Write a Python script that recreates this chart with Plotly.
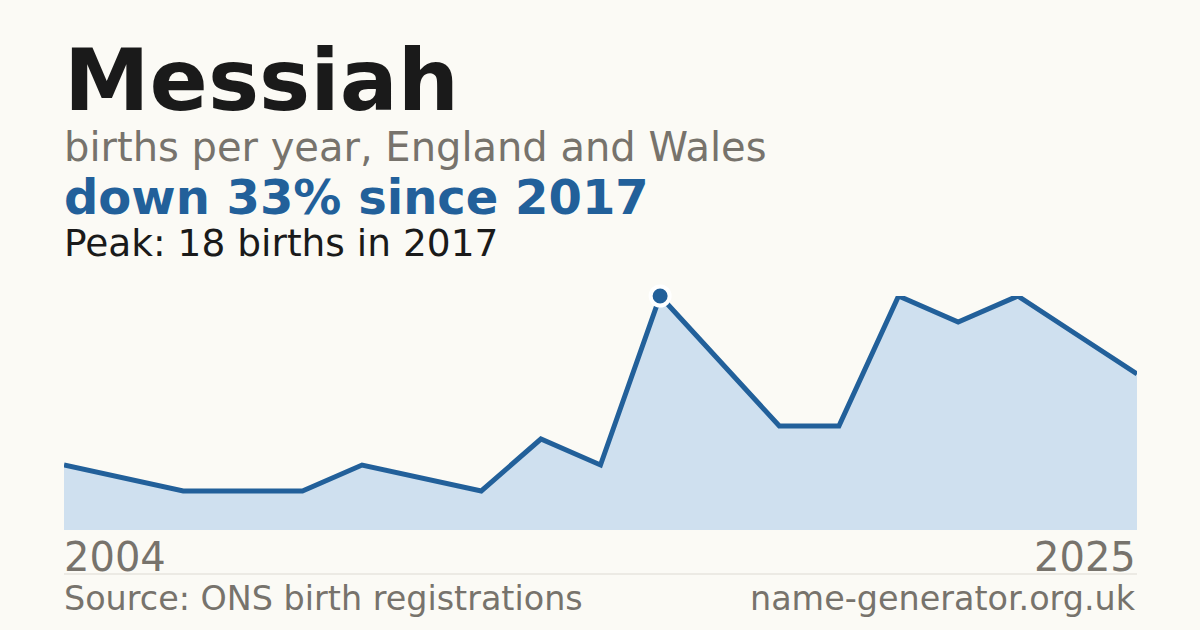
"""Births per year chart for the name Messiah, England and Wales."""

import plotly.graph_objects as go

# Years with published counts (suppressed years are absent)
years = ["2004", "2005", "2007", "2008", "2010", "2011", "2013", "2014", "2015",
         "2016", "2017", "2018", "2019", "2020", "2021", "2022", "2023", "2024", "2025"]
births = [5, 4, 3, 3, 3, 5, 4, 3, 7, 5, 18, 13, 8, 8, 18, 16, 18, 15, 12]

peak_year = "2017"
peak_value = 18

BG = "#fbfaf5"
LINE = "#22609a"
FILL = "#cfe0ef"
GREY = "#77736c"
DARK = "#1a1a1a"
FONT = "DejaVu Sans"

# plot area in pixels
TOP, BOTTOM = 296, 530


def py(px):
    """Convert a pixel row to paper y."""
    return (BOTTOM - px) / (BOTTOM - TOP)


fig = go.Figure()

fig.add_trace(
    go.Scatter(
        x=years,
        y=births,
        mode="lines",
        line=dict(color=LINE, width=5),
        fill="tozeroy",
        fillcolor=FILL,
        hoverinfo="skip",
        cliponaxis=False,
    )
)

fig.add_trace(
    go.Scatter(
        x=[peak_year],
        y=[peak_value],
        mode="markers",
        marker=dict(color=LINE, size=19, line=dict(color="white", width=4)),
        cliponaxis=False,
        hoverinfo="skip",
    )
)

annotations = [
    dict(text="<b>Messiah</b>", x=0, y=py(80), size=86, color=DARK),
    dict(text="births per year, England and Wales", x=0, y=py(147), size=40, color=GREY),
    dict(text="<b>down 33% since 2017</b>", x=0, y=py(197), size=48, color=LINE),
    dict(text=f"Peak: {peak_value} births in {peak_year}", x=0, y=py(243), size=37.5, color=DARK),
    dict(text=years[0], x=0, y=py(557), size=40, color=GREY),
    dict(text=years[-1], x=1, y=py(557), size=40, color=GREY),
    dict(text="Source: ONS birth registrations", x=0, y=py(598), size=33.4, color=GREY),
    dict(text="name-generator.org.uk", x=1, y=py(598), size=33.4, color=GREY),
]

fig.update_layout(
    width=1200,
    height=630,
    paper_bgcolor=BG,
    plot_bgcolor=BG,
    showlegend=False,
    margin=dict(l=64, r=63, t=TOP, b=630 - BOTTOM),
    font=dict(family=FONT),
    xaxis=dict(
        type="category",
        range=[0, len(years) - 1],
        showgrid=False,
        zeroline=False,
        showticklabels=False,
        fixedrange=True,
    ),
    yaxis=dict(
        range=[0, peak_value],
        showgrid=False,
        zeroline=False,
        showticklabels=False,
        fixedrange=True,
    ),
    annotations=[
        dict(
            text=a["text"],
            x=a["x"],
            y=a["y"],
            xref="paper",
            yref="paper",
            xanchor="left" if a["x"] == 0 else "right",
            xshift=-1 if a["x"] == 0 else 0,
            yanchor="middle",
            showarrow=False,
            borderpad=0,
            font=dict(family=FONT, size=a["size"], color=a["color"]),
        )
        for a in annotations
    ],
    shapes=[
        dict(
            type="line",
            xref="paper",
            yref="paper",
            x0=0,
            x1=1,
            y0=py(574),
            y1=py(574),
            line=dict(color="#dddad3", width=1),
        )
    ],
)

# drop the default page margin so the figure fills the window
fig.write_html(
    "out.html",
    config={"displayModeBar": False},
    post_script=f"document.body.style.margin='0';document.body.style.background='{BG}';",
)
